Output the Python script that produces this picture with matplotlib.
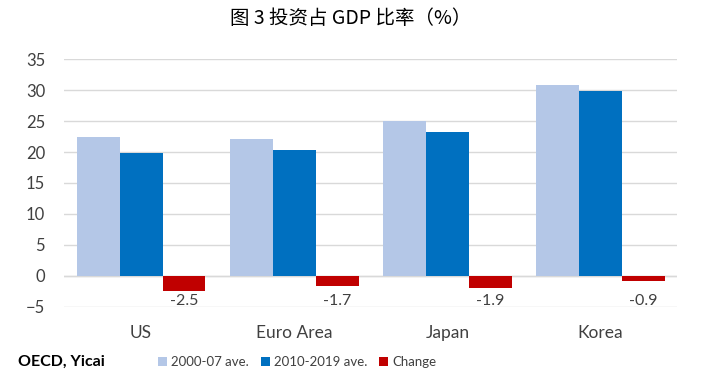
import numpy as np
import matplotlib.pyplot as plt

# data
regions = ['US', 'Euro Area', 'Japan', 'Korea']
ave_2000_07 = [22.4, 22.1, 25.1, 30.8]
ave_2010_19 = [19.9, 20.4, 23.2, 29.9]
change = [-2.5, -1.7, -1.9, -0.9]

light = '#B4C7E7'
dark = '#0070C0'
red = '#C00000'
txt = '#404040'

plt.rcParams['font.family'] = ['Lato', 'DejaVu Sans']

fig = plt.figure(figsize=(7.01, 3.87), dpi=100)
ax = fig.add_axes([0.092, 1 - 306.7 / 387, 0.966 - 0.092, (306.7 - 59.3) / 387])

x = np.arange(len(regions))
w = 0.28
ax.bar(x - w, ave_2000_07, w, color=light, label='2000-07 ave.', zorder=3)
ax.bar(x, ave_2010_19, w, color=dark, label='2010-2019 ave.', zorder=3)
ax.bar(x + w, change, w, color=red, label='Change', zorder=3)

for i, v in enumerate(change):
    ax.text(x[i] + w, -4.1, f'{v:.1f}', ha='center', va='center', fontsize=11.5, color=txt)

ax.set_xlim(-0.5, len(regions) - 0.5)
ax.set_ylim(-5, 35)
ax.set_yticks(range(-5, 36, 5))
ax.yaxis.grid(True, color='#D9D9D9', linewidth=1, zorder=0)
ax.set_axisbelow(True)
for s in ax.spines.values():
    s.set_visible(False)
ax.axhline(0, color='#D9D9D9', linewidth=1, zorder=1)
ax.tick_params(axis='y', length=0, pad=14, labelsize=12, labelcolor=txt)
ax.set_xticks(x)
ax.set_xticklabels(regions)
ax.tick_params(axis='x', length=0, pad=13, labelsize=12.5, labelcolor=txt)

fig.text(0.5, 1 - 18 / 387, '图 3 投资占 GDP 比率（%）', ha='center', va='center',
         fontsize=14, family=['Noto Sans CJK SC', 'DejaVu Sans'], color='black')
fig.text(18 / 701, 1 - 362 / 387, 'OECD, Yicai', ha='left', va='center',
         fontsize=11.5, fontweight='bold', color='black')

handles, labels = ax.get_legend_handles_labels()
fig.legend(handles, labels, loc='center left', bbox_to_anchor=(146 / 701, 1 - 362 / 387),
           ncol=3, frameon=False, fontsize=9.5, handlelength=0.7, handleheight=0.7,
           handletextpad=0.3, columnspacing=0.9, labelcolor=txt)

fig.savefig('out.png', dpi=100)
